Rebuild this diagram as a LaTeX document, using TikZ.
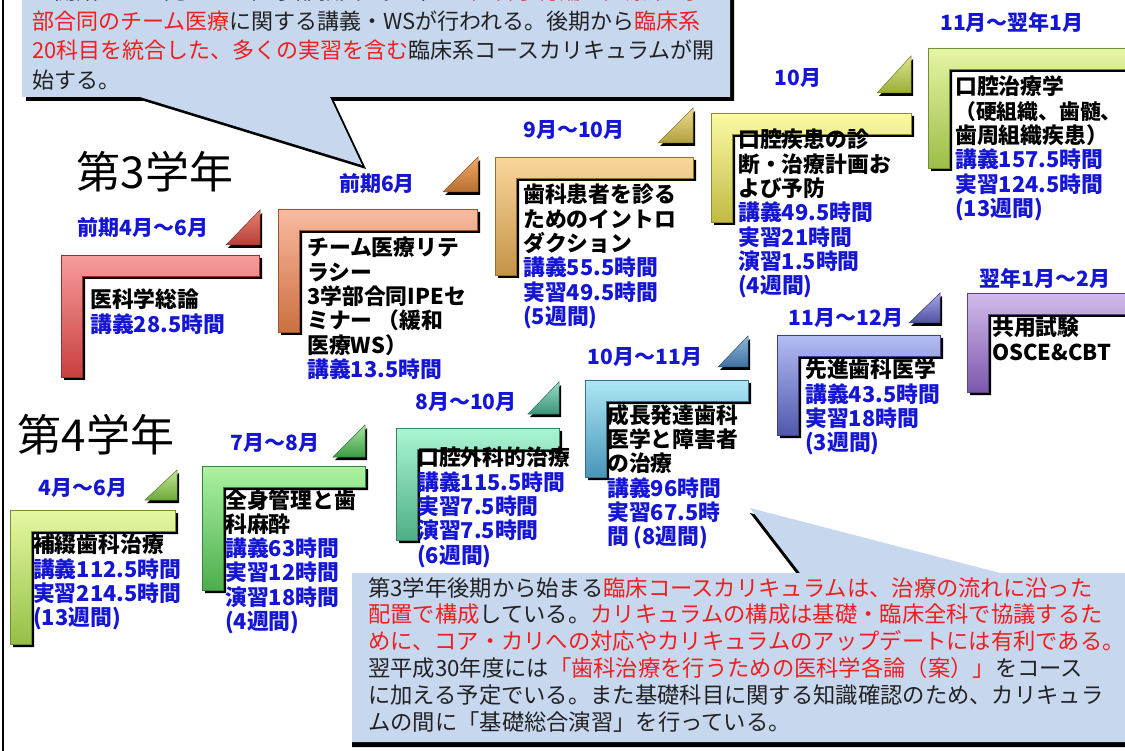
\documentclass[tikz,border=0pt]{standalone}
\usepackage{fontspec}
\setmainfont{Noto Sans CJK JP}
\definecolor{hblue}{HTML}{1515D5}
\definecolor{hred}{HTML}{F01E1E}
\definecolor{txt}{HTML}{222222}
\definecolor{callfill}{HTML}{C6D7EE}
\definecolor{aT}{HTML}{F89C9C}\definecolor{aB}{HTML}{C84040}
\definecolor{taT}{HTML}{E58070}\definecolor{taB}{HTML}{B84038}
\definecolor{bT}{HTML}{F9BAA0}\definecolor{bB}{HTML}{CC7040}
\definecolor{tbT}{HTML}{F0A868}\definecolor{tbB}{HTML}{B87030}
\definecolor{cT}{HTML}{FAD69C}\definecolor{cB}{HTML}{C49448}
\definecolor{tcT}{HTML}{EEDC8C}\definecolor{tcB}{HTML}{B0A040}
\definecolor{dT}{HTML}{FBFBA4}\definecolor{dB}{HTML}{C2BA44}
\definecolor{tdT}{HTML}{DCE48C}\definecolor{tdB}{HTML}{9CAC3C}
\definecolor{eT}{HTML}{E6F5A4}\definecolor{eB}{HTML}{9CBE48}
\definecolor{fT}{HTML}{D2BCEA}\definecolor{fB}{HTML}{7C58AC}
\definecolor{gT}{HTML}{B4BCF4}\definecolor{gB}{HTML}{5058AC}
\definecolor{tgT}{HTML}{A4A8E8}\definecolor{tgB}{HTML}{5050A0}
\definecolor{hT}{HTML}{AEE6F6}\definecolor{hB}{HTML}{4896B8}
\definecolor{thT}{HTML}{8CB8DC}\definecolor{thB}{HTML}{4070A0}
\definecolor{iT}{HTML}{AAF5D2}\definecolor{iB}{HTML}{4EAE86}
\definecolor{tiT}{HTML}{98DCC8}\definecolor{tiB}{HTML}{3C9478}
\definecolor{kT}{HTML}{ACF2A2}\definecolor{kB}{HTML}{4CAE4C}
\definecolor{tkT}{HTML}{A8E4A0}\definecolor{tkB}{HTML}{3C9C44}
\definecolor{jT}{HTML}{E6F8A2}\definecolor{jB}{HTML}{94C046}
\definecolor{tjT}{HTML}{C4E890}\definecolor{tjB}{HTML}{6CA83C}
% L-shaped step: left, top, right, bottom, top colour, bottom colour
\newcommand\StepL[6]{%
  \fill[black] ({#1+3},{#2+3}) -- ({#3+3},{#2+3}) -- ({#3+3},{#2+24}) -- ({#1+24},{#2+24}) -- ({#1+24},{#4+3}) -- ({#1+3},{#4+3}) -- cycle;
  \path[top color=#5,bottom color=#6,draw=#6!75!black,line width=0.6pt] (#1,#2) -- (#3,#2) -- (#3,{#2+21}) -- ({#1+21},{#2+21}) -- ({#1+21},#4) -- (#1,#4) -- cycle;}
% triangle: x1, x2, ytop, ybottom, colours
\newcommand\StepTri[6]{%
  \fill[black] ({#1+2},{#4+3}) -- ({#2+2},{#4+3}) -- ({#2+2},{#3+3}) -- cycle;
  \path[top color=#5,bottom color=#6,draw=#6!75!black,line width=0.5pt] (#1,#4) -- (#2,#4) -- (#2,#3) -- cycle;}
\newcommand\hb{\color{hblue}}
\tikzset{
  boxtxt/.style={anchor=north west,inner sep=0pt,align=left,text=black,
    font=\fontsize{21.8}{24.3}\selectfont\bfseries},
  datelbl/.style={inner sep=0pt,text=hblue,font=\fontsize{21}{21}\selectfont\bfseries},
  bigyear/.style={inner sep=0pt,text=black,font=\fontsize{44}{44}\selectfont},
  calltxt/.style={anchor=north west,inner sep=0pt,align=left,text=txt},
}
\begin{document}
\begin{tikzpicture}[x=1pt,y=-1pt]
\useasboundingbox (0,0) rectangle (1125,751);
\clip (0,0) rectangle (1125,751);
\fill[white] (0,0) rectangle (1125,751);
\draw[line width=1.5pt] (3,0) -- (3,751);

% top callout
\fill[black,shift={(4,4)}] (22,-30) -- (730,-30) -- (730,97) -- (330,97) -- (362,165) -- (140,97) -- (22,97) -- cycle;
\fill[callfill] (22,-30) -- (730,-30) -- (730,97) -- (330,97) -- (362,165) -- (140,97) -- (22,97) -- cycle;
\node[calltxt,font=\fontsize{22}{29.5}\selectfont] (topnote) at (32,-19)
  {は開始するに先立って医学部教員が担当する\textcolor{hred}{医科学総論や医療系3学}\\
   \textcolor{hred}{部合同のチーム医療}に関する講義・WSが行われる。後期から\textcolor{hred}{臨床系}\\
   \textcolor{hred}{20科目を統合した、多くの実習を含む}臨床系コースカリキュラムが開\\
   始する。};

% bottom callout
\fill[black,shift={(0,5)}] (352,573) -- (800,573) -- (750,508) -- (1000,573) -- (1130,573) -- (1130,742) -- (352,742) -- cycle;
\fill[callfill] (352,573) -- (800,573) -- (750,508) -- (1000,573) -- (1130,573) -- (1130,742) -- (352,742) -- cycle;
\node[calltxt,font=\fontsize{22.3}{26.8}\selectfont] (botnote) at (368,577)
  {第3学年後期から始まる\textcolor{hred}{臨床コースカリキュラムは、治療の流れに沿った}\\
   \textcolor{hred}{配置で構成}している。\textcolor{hred}{カリキュラムの構成は基礎・臨床全科で協議するた}\\
   \textcolor{hred}{めに、コア・カリへの対応やカリキュラムのアップデートには有利である。}\\
   翌平成30年度には\textcolor{hred}{「歯科治療を行うための医科学各論（案）」}をコース\\
   に加える予定でいる。また基礎科目に関する知識確認のため、カリキュラ\\
   ムの間に「基礎総合演習」を行っている。};

% year titles
\node[bigyear] (y3) at (155,172) {第3学年};
\node[bigyear] (y4) at (96,435) {第4学年};

% steps, third year
\StepL{61}{255}{259}{377}{aT}{aB}\StepTri{226}{260}{210}{245}{taT}{taB}
\StepL{278}{209}{477}{332}{bT}{bB}\StepTri{443}{478}{157}{192}{tbT}{tbB}
\StepL{495}{157}{693}{275}{cT}{cB}\StepTri{658}{693}{108}{143}{tcT}{tcB}
\StepL{711}{113}{911}{222}{dT}{dB}\StepTri{877}{911}{56}{93}{tdT}{tdB}
\StepL{928}{48}{1140}{168}{eT}{eB}
\StepL{967}{293}{1140}{392}{fT}{fB}
% steps, fourth year
\StepL{777}{335}{940}{435}{gT}{gB}\StepTri{909}{940}{293}{323}{tgT}{tgB}
\StepL{585}{380}{748}{477}{hT}{hB}\StepTri{718}{748}{336}{367}{thT}{thB}
\StepL{396}{428}{559}{540}{iT}{iB}\StepTri{528}{559}{382}{414}{tiT}{tiB}
\StepL{202}{466}{365}{590}{kT}{kB}\StepTri{333}{365}{425}{457}{tkT}{tkB}
\StepL{10}{510}{175}{644}{jT}{jB}\StepTri{145}{177}{470}{500}{tjT}{tjB}

% date labels
\node[datelbl] (dA) at (143,228) {前期4月～6月};
\node[datelbl] (dB) at (377,184) {前期6月};
\node[datelbl] (dC) at (574,130) {9月～10月};
\node[datelbl] (dD) at (798,78) {10月};
\node[datelbl] (dE) at (1012,22) {11月～翌年1月};
\node[datelbl] (dF) at (1045,278) {翌年1月～2月};
\node[datelbl] (dG) at (846,318) {11月～12月};
\node[datelbl] (dH) at (645,357) {10月～11月};
\node[datelbl] (dI) at (466,402) {8月～10月};
\node[datelbl] (dK) at (275,443) {7月～8月};
\node[datelbl] (dJ) at (83,488) {4月～6月};

% box texts
\node[boxtxt] (tA) at (90,289) {医科学総論\\\hb 講義28.5時間};
\node[boxtxt] (tB) at (307,237) {チーム医療リテ\\ラシー\\3学部合同IPEセ\\ミナー （緩和\\医療WS）\\\hb 講義13.5時間};
\node[boxtxt] (tC) at (523,184) {歯科患者を診る\\ためのイントロ\\ダクション\\\hb 講義55.5時間\\\hb 実習49.5時間\\\hb (5週間)};
\node[boxtxt] (tD) at (738,129) {口腔疾患の診\\断・治療計画お\\よび予防\\\hb 講義49.5時間\\\hb 実習21時間\\\hb 演習1.5時間\\\hb (4週間)};
\node[boxtxt] (tE) at (955,76) {口腔治療学\\\fontsize{20.8}{24.3}\selectfont（硬組織、歯髄、\\歯周組織疾患）\\\hb 講義157.5時間\\\hb 実習124.5時間\\\hb (13週間)};
\node[boxtxt] (tF) at (992,317) {共用試験\\OSCE\&CBT};
\node[boxtxt] (tG) at (805,359) {先進歯科医学\\\hb 講義43.5時間\\\hb 実習18時間\\\hb (3週間)};
\node[boxtxt] (tH) at (607,404) {成長発達歯科\\医学と障害者\\の治療\\\hb 講義96時間\\\hb 実習67.5時\\\hb 間 (8週間)};
\node[boxtxt] (tI) at (417,447) {口腔外科的治療\\\hb 講義115.5時間\\\hb 実習7.5時間\\\hb 演習7.5時間\\\hb (6週間)};
\node[boxtxt] (tK) at (225,489) {全身管理と歯\\科麻酔\\\hb 講義63時間\\\hb 実習12時間\\\hb 演習18時間\\\hb (4週間)};
\node[boxtxt] (tJ) at (33,534) {補綴歯科治療\\\hb 講義112.5時間\\\hb 実習214.5時間\\\hb (13週間)};
\end{tikzpicture}
\end{document}
